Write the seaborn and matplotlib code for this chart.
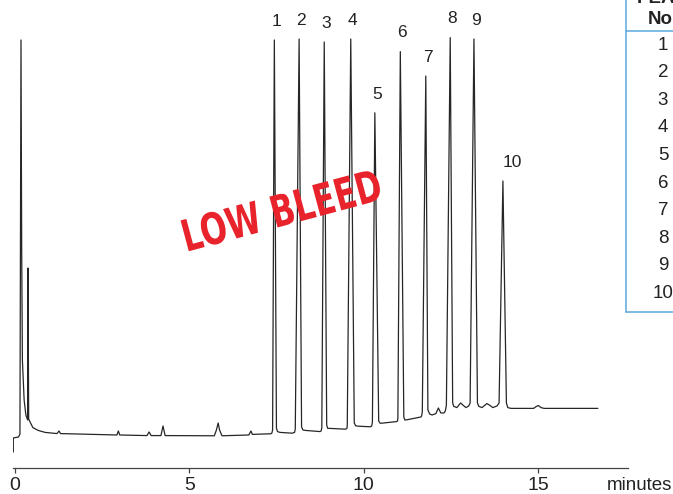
import matplotlib
matplotlib.use("Agg")
import matplotlib.pyplot as plt
from matplotlib.lines import Line2D
from matplotlib.patheffects import AbstractPathEffect
from matplotlib.transforms import Affine2D
import seaborn as sns
import pandas as pd

# chromatogram trace: retention time (min) and response
time_min = [
    -0.04, -0.04, 0.11, 0.15, 0.18, 0.20, 0.22, 0.27, 0.32, 0.37, 0.38, 0.40,
    0.44, 0.52, 0.67, 0.87, 1.21, 1.27, 1.31, 2.93, 2.97, 3.01, 3.79, 3.85,
    3.91, 4.19, 4.25, 4.31, 5.72, 5.78, 5.83, 5.87, 5.94, 6.71, 6.77, 6.81,
    7.34,
    7.37, 7.39, 7.44, 7.50, 7.53, 7.60, 7.95,
    8.02, 8.04, 8.15, 8.22, 8.26, 8.32, 8.75,
    8.78, 8.80, 8.87, 8.94, 8.97, 9.03, 9.48,
    9.52, 9.53, 9.63, 9.73, 9.77, 9.84, 10.19,
    10.23, 10.25, 10.32, 10.43, 10.47, 10.52, 10.94,
    10.97, 10.98, 11.05, 11.15, 11.18, 11.24, 11.64,
    11.66, 11.68, 11.78, 11.84, 11.89, 11.96, 12.07, 12.14, 12.21, 12.30,
    12.34, 12.37, 12.48, 12.55, 12.58, 12.67, 12.73, 12.78, 12.84, 12.93, 13.01,
    13.05, 13.16, 13.26, 13.30, 13.39, 13.48, 13.53, 13.60, 13.70, 13.82, 13.88,
    13.99, 14.09, 14.13, 14.22, 14.87, 14.95, 15.01, 15.08, 15.17, 16.71,
]
response = [
    -3.0, 0.5, 0.75, 1.5, 100.0, 47.5, 20.0, 10.0, 6.25, 5.0, 43.0, 5.25,
    4.5, 3.1, 2.4, 1.9, 1.6, 2.25, 1.6, 1.25, 2.25, 1.25, 1.1, 2.0,
    1.1, 1.1, 3.5, 1.1, 1.05, 2.5, 4.25, 2.5, 1.05, 1.25, 2.25, 1.4,
    1.55,
    1.75, 2.5, 100.0, 3.0, 2.1, 1.9, 1.7,
    1.9, 2.75, 100.25, 3.25, 2.5, 2.4, 2.1,
    2.25, 3.0, 99.5, 3.75, 2.9, 2.9, 2.7,
    2.9, 3.75, 100.25, 4.25, 3.55, 3.45, 3.3,
    3.5, 4.5, 81.8, 4.75, 4.2, 4.2, 4.6,
    4.75, 5.5, 97.1, 5.75, 5.0, 5.05, 5.75,
    6.0, 7.0, 91.0, 7.5, 6.5, 6.25, 6.6, 8.0, 6.75, 6.75,
    7.25, 8.75, 100.6, 9.25, 8.4, 8.1, 8.75, 9.25, 8.75, 8.1, 8.5,
    9.25, 100.25, 9.25, 8.4, 8.1, 8.75, 9.1, 8.75, 8.1, 8.5, 9.25,
    64.75, 9.25, 8.1, 7.9, 7.9, 8.4, 8.6, 8.1, 7.9, 7.9,
]

peak_no = [1, 2, 3, 4, 5, 6, 7, 8, 9, 10]
peak_rt = [7.44, 8.15, 8.87, 9.63, 10.32, 11.05, 11.78, 12.48, 13.16, 13.99]
peak_top = [100.0, 100.25, 99.5, 100.25, 81.8, 97.1, 91.0, 100.6, 100.25, 64.75]

x_ticks = [0, 5, 10, 15]


class Squash(AbstractPathEffect):
    """Narrow the glyphs along the text direction (stamp lettering)."""

    def __init__(self, sx, sy=1.0):
        super().__init__()
        self.sx, self.sy = sx, sy

    def draw_path(self, renderer, gc, tpath, affine, rgbFace=None):
        renderer.draw_path(gc, tpath, Affine2D().scale(self.sx, self.sy) + affine,
                           rgbFace)


sns.set_theme(style="white")
plt.rcParams["font.family"] = ["Liberation Sans", "DejaVu Sans"]

W, H = 673, 494
fig = plt.figure(figsize=(W / 100, H / 100), dpi=100)
ax = fig.add_axes([13 / W, (H - 467.7) / H, 614.5 / W, 467.7 / H])

trace = pd.DataFrame({"time": time_min, "response": response})
sns.lineplot(data=trace, x="time", y="response", ax=ax, estimator=None,
             sort=False, color="#262626", linewidth=0.9)

ax.set_xlim(-0.049, 17.56)
ax.set_ylim(-6.93, 110)
ax.set_xlabel("")
ax.set_ylabel("")
ax.set_yticks([])
ax.set_xticks(x_ticks)
ax.set_xticklabels([str(t) for t in x_ticks])
for side in ["top", "left", "right"]:
    ax.spines[side].set_visible(False)
ax.spines["bottom"].set_color("#444444")
ax.spines["bottom"].set_linewidth(0.9)
ax.tick_params(axis="x", direction="out", length=3.6, width=0.9,
               color="#444444", labelsize=14, labelcolor="#222222", pad=2.8,
               bottom=True)

for n, rt, top in zip(peak_no, peak_rt, peak_top):
    dx = 6.5 if n == 10 else 1.4
    ax.annotate(str(n), (rt, top), xytext=(dx, 13.5), textcoords="offset points",
                ha="center", va="center", fontsize=12.5, color="#222222")

fig.text(607 / W, 1 - 490 / H, "minutes", ha="left", va="baseline",
         fontsize=13.5, color="#222222")

# stamp
fig.text(186 / W, 1 - 252 / H, "LOW BLEED", rotation=15, rotation_mode="anchor",
         ha="left", va="baseline", color="#e8232b", fontsize=30,
         fontweight="bold", family="DejaVu Sans",
         path_effects=[Squash(0.76, 1.05)])

# peak table (cropped at the right edge)
blue = "#5aa9dc"
fig.add_artist(Line2D([626 / W, 626 / W], [1, 1 - 312 / H], color=blue, lw=1.1))
fig.add_artist(Line2D([626 / W, 1], [1 - 312 / H, 1 - 312 / H], color=blue, lw=1.1))
fig.add_artist(Line2D([626 / W, 1], [1 - 30.7 / H, 1 - 30.7 / H], color=blue, lw=1.1))
fig.text(663 / W, 1 + 2 / H, "PEAK", ha="center", va="center", fontsize=13.5,
         fontweight="bold", color="#222222")
fig.text(663 / W, 1 - 20 / H, "No.", ha="center", va="center", fontsize=13.5,
         fontweight="bold", color="#222222")
for i, n in enumerate(peak_no):
    fig.text(663 / W, 1 - (45 + 27.6 * i) / H, str(n), ha="center", va="center",
             fontsize=13.5, color="#222222")

fig.savefig("out.png", dpi=100)
